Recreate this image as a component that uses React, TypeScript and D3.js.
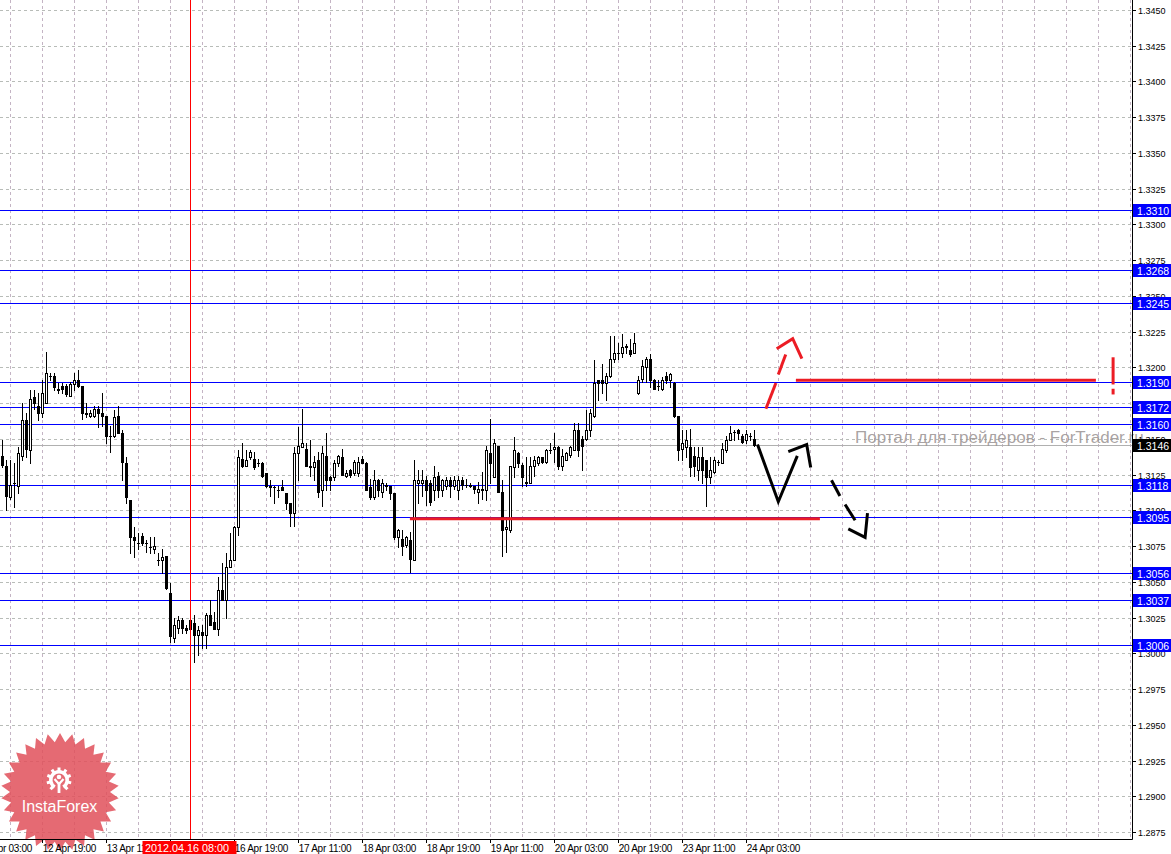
import React from 'react';
import * as d3 from 'd3';

// ---- Data: EURUSD H1 candles (bar index 0 = leftmost visible bar) ----
const opens = [
  1.3138, 1.3131, 1.3109, 1.3119, 1.3117, 1.3138, 1.3163, 1.3142, 1.3179, 1.3173,
  1.3168, 1.3175, 1.3194, 1.3194, 1.3185, 1.3187, 1.3187, 1.3180, 1.3188, 1.3191,
  1.3187, 1.3168, 1.3166, 1.3166, 1.3171, 1.3168, 1.3166, 1.3152, 1.3152, 1.3166,
  1.3154, 1.3133, 1.3107, 1.3081, 1.3077, 1.3082, 1.3077, 1.3074, 1.3073, 1.3065,
  1.3065, 1.3068, 1.3042, 1.3011, 1.3018, 1.3023, 1.3018, 1.3017, 1.3021, 1.3013,
  1.3015, 1.3013, 1.3027, 1.3022, 1.3017, 1.3044, 1.3037, 1.3060, 1.3065, 1.3088,
  1.3136, 1.3131, 1.3137, 1.3136, 1.3133, 1.3133, 1.3126, 1.3117, 1.3116, 1.3114,
  1.3116, 1.3112, 1.3105, 1.3098, 1.3140, 1.3144, 1.3143, 1.3131, 1.3130, 1.3135,
  1.3114, 1.3138, 1.3123, 1.3123, 1.3133, 1.3137, 1.3124, 1.3128, 1.3126, 1.3126,
  1.3136, 1.3133, 1.3116, 1.3109, 1.3121, 1.3113, 1.3118, 1.3117, 1.3112, 1.3081,
  1.3080, 1.3076, 1.3079, 1.3065, 1.3119, 1.3119, 1.3121, 1.3119, 1.3114, 1.3124,
  1.3114, 1.3117, 1.3121, 1.3117, 1.3114, 1.3121, 1.3118, 1.3118, 1.3117, 1.3113,
  1.3115, 1.3114, 1.3140, 1.3123, 1.3145, 1.3113, 1.3087, 1.3086, 1.3130, 1.3140,
  1.3132, 1.3120, 1.3119, 1.3131, 1.3133, 1.3137, 1.3134, 1.3142, 1.3143, 1.3144,
  1.3131, 1.3135, 1.3139, 1.3142, 1.3156, 1.3150, 1.3150, 1.3156, 1.3166, 1.3191,
  1.3191, 1.3189, 1.3194, 1.3206, 1.3210, 1.3210, 1.3214, 1.3212, 1.3210, 1.3182,
  1.3192, 1.3200, 1.3206, 1.3191, 1.3187, 1.3185, 1.3194, 1.3191, 1.3189, 1.3166,
  1.3143, 1.3144, 1.3144, 1.3138, 1.3128, 1.3137, 1.3135, 1.3123, 1.3127, 1.3134,
  1.3133, 1.3142, 1.3149, 1.3155, 1.3156, 1.3152, 1.3149, 1.3152, 1.3150,
];
const highs = [
  1.3149, 1.3135, 1.3135, 1.3133, 1.3144, 1.3175, 1.3168, 1.3184, 1.3184, 1.3182,
  1.3191, 1.3211, 1.3196, 1.3196, 1.3189, 1.3189, 1.3188, 1.3190, 1.3196, 1.3198,
  1.3187, 1.3175, 1.3170, 1.3173, 1.3173, 1.3182, 1.3166, 1.3159, 1.3170, 1.3173,
  1.3156, 1.3137, 1.3107, 1.3088, 1.3084, 1.3084, 1.3079, 1.3081, 1.3081, 1.3070,
  1.3073, 1.3068, 1.3049, 1.3025, 1.3026, 1.3025, 1.3020, 1.3028, 1.3027, 1.3019,
  1.3020, 1.3028, 1.3037, 1.3029, 1.3053, 1.3063, 1.3070, 1.3084, 1.3089, 1.3142,
  1.3147, 1.3142, 1.3142, 1.3141, 1.3136, 1.3134, 1.3126, 1.3121, 1.3117, 1.3117,
  1.3121, 1.3112, 1.3105, 1.3144, 1.3158, 1.3171, 1.3147, 1.3149, 1.3138, 1.3141,
  1.3145, 1.3154, 1.3124, 1.3135, 1.3139, 1.3143, 1.3128, 1.3129, 1.3135, 1.3137,
  1.3138, 1.3134, 1.3122, 1.3128, 1.3122, 1.3122, 1.3119, 1.3117, 1.3112, 1.3087,
  1.3086, 1.3082, 1.3085, 1.3135, 1.3128, 1.3128, 1.3124, 1.3121, 1.3131, 1.3127,
  1.3122, 1.3123, 1.3123, 1.3124, 1.3124, 1.3123, 1.3122, 1.3119, 1.3117, 1.3120,
  1.3127, 1.3145, 1.3164, 1.3150, 1.3145, 1.3121, 1.3095, 1.3131, 1.3151, 1.3141,
  1.3133, 1.3137, 1.3137, 1.3138, 1.3138, 1.3137, 1.3143, 1.3147, 1.3154, 1.3145,
  1.3143, 1.3141, 1.3145, 1.3161, 1.3161, 1.3152, 1.3170, 1.3171, 1.3205, 1.3191,
  1.3202, 1.3196, 1.3222, 1.3222, 1.3217, 1.3223, 1.3216, 1.3220, 1.3224, 1.3194,
  1.3205, 1.3207, 1.3209, 1.3192, 1.3191, 1.3193, 1.3197, 1.3196, 1.3190, 1.3166,
  1.3156, 1.3156, 1.3157, 1.3144, 1.3144, 1.3144, 1.3135, 1.3137, 1.3137, 1.3135,
  1.3147, 1.3152, 1.3159, 1.3156, 1.3157, 1.3153, 1.3156, 1.3154, 1.3156,
];
const lows = [
  1.3130, 1.3100, 1.3108, 1.3102, 1.3112, 1.3135, 1.3137, 1.3133, 1.3171, 1.3163,
  1.3165, 1.3175, 1.3191, 1.3184, 1.3182, 1.3182, 1.3180, 1.3180, 1.3184, 1.3186,
  1.3164, 1.3165, 1.3165, 1.3165, 1.3158, 1.3159, 1.3147, 1.3141, 1.3151, 1.3154,
  1.3121, 1.3105, 1.3070, 1.3067, 1.3073, 1.3076, 1.3071, 1.3070, 1.3070, 1.3062,
  1.3056, 1.3045, 1.3008, 1.3008, 1.3014, 1.3014, 1.3014, 1.3014, 1.2994, 1.2999,
  1.3004, 1.3004, 1.3020, 1.3017, 1.3013, 1.3037, 1.3025, 1.3060, 1.3065, 1.3083,
  1.3130, 1.3131, 1.3136, 1.3129, 1.3131, 1.3123, 1.3116, 1.3110, 1.3105, 1.3109,
  1.3114, 1.3101, 1.3089, 1.3089, 1.3121, 1.3144, 1.3131, 1.3124, 1.3121, 1.3109,
  1.3103, 1.3114, 1.3114, 1.3121, 1.3131, 1.3125, 1.3123, 1.3123, 1.3125, 1.3124,
  1.3133, 1.3114, 1.3108, 1.3108, 1.3110, 1.3109, 1.3114, 1.3108, 1.3080, 1.3074,
  1.3069, 1.3074, 1.3057, 1.3065, 1.3105, 1.3110, 1.3104, 1.3104, 1.3107, 1.3109,
  1.3110, 1.3115, 1.3109, 1.3115, 1.3108, 1.3115, 1.3116, 1.3116, 1.3112, 1.3105,
  1.3108, 1.3107, 1.3119, 1.3123, 1.3113, 1.3068, 1.3071, 1.3085, 1.3123, 1.3130,
  1.3117, 1.3117, 1.3119, 1.3124, 1.3132, 1.3133, 1.3133, 1.3140, 1.3134, 1.3129,
  1.3128, 1.3135, 1.3137, 1.3142, 1.3138, 1.3128, 1.3149, 1.3152, 1.3165, 1.3177,
  1.3182, 1.3177, 1.3193, 1.3204, 1.3206, 1.3207, 1.3210, 1.3208, 1.3210, 1.3181,
  1.3190, 1.3190, 1.3186, 1.3185, 1.3184, 1.3184, 1.3189, 1.3186, 1.3165, 1.3135,
  1.3135, 1.3137, 1.3124, 1.3124, 1.3121, 1.3119, 1.3103, 1.3119, 1.3126, 1.3132,
  1.3133, 1.3141, 1.3149, 1.3149, 1.3150, 1.3147, 1.3147, 1.3149, 1.3145,
];
const closes = [
  1.3132, 1.3110, 1.3118, 1.3119, 1.3140, 1.3163, 1.3143, 1.3178, 1.3175, 1.3168,
  1.3182, 1.3196, 1.3194, 1.3186, 1.3184, 1.3185, 1.3181, 1.3188, 1.3191, 1.3187,
  1.3168, 1.3167, 1.3168, 1.3171, 1.3168, 1.3166, 1.3152, 1.3152, 1.3165, 1.3154,
  1.3134, 1.3109, 1.3081, 1.3079, 1.3077, 1.3077, 1.3077, 1.3074, 1.3075, 1.3065,
  1.3067, 1.3046, 1.3012, 1.3020, 1.3023, 1.3018, 1.3016, 1.3023, 1.3013, 1.3016,
  1.3013, 1.3027, 1.3020, 1.3017, 1.3044, 1.3037, 1.3060, 1.3065, 1.3088, 1.3137,
  1.3131, 1.3135, 1.3141, 1.3130, 1.3133, 1.3124, 1.3117, 1.3116, 1.3116, 1.3114,
  1.3114, 1.3105, 1.3098, 1.3140, 1.3145, 1.3147, 1.3131, 1.3130, 1.3134, 1.3113,
  1.3140, 1.3121, 1.3121, 1.3133, 1.3138, 1.3125, 1.3126, 1.3125, 1.3134, 1.3134,
  1.3133, 1.3114, 1.3109, 1.3121, 1.3114, 1.3119, 1.3117, 1.3112, 1.3081, 1.3086,
  1.3075, 1.3081, 1.3066, 1.3121, 1.3121, 1.3121, 1.3114, 1.3106, 1.3123, 1.3114,
  1.3121, 1.3121, 1.3117, 1.3121, 1.3121, 1.3118, 1.3118, 1.3117, 1.3115, 1.3115,
  1.3114, 1.3142, 1.3133, 1.3147, 1.3113, 1.3086, 1.3088, 1.3131, 1.3142, 1.3133,
  1.3123, 1.3119, 1.3131, 1.3135, 1.3137, 1.3134, 1.3142, 1.3142, 1.3144, 1.3131,
  1.3138, 1.3140, 1.3144, 1.3156, 1.3142, 1.3145, 1.3156, 1.3168, 1.3189, 1.3189,
  1.3189, 1.3194, 1.3206, 1.3210, 1.3210, 1.3214, 1.3215, 1.3209, 1.3217, 1.3191,
  1.3201, 1.3206, 1.3191, 1.3185, 1.3187, 1.3191, 1.3191, 1.3195, 1.3166, 1.3142,
  1.3147, 1.3149, 1.3130, 1.3131, 1.3137, 1.3128, 1.3123, 1.3128, 1.3135, 1.3134,
  1.3143, 1.3149, 1.3154, 1.3155, 1.3154, 1.3148, 1.3153, 1.3152, 1.3146,
];

// Horizontal levels drawn on the chart (blue)
const levelPrices = [1.3310, 1.3268, 1.3245, 1.3190, 1.3172, 1.3160, 1.3118, 1.3095, 1.3056, 1.3037, 1.3006];
const bidPrice = 1.3146;

// Price axis ticks
const priceTicks = [
  1.2875, 1.2900, 1.2925, 1.2950, 1.2975, 1.3000, 1.3025, 1.3050, 1.3075, 1.3100, 1.3125, 1.3150,
  1.3175, 1.3200, 1.3225, 1.3250, 1.3275, 1.3300, 1.3325, 1.3350, 1.3375, 1.3400, 1.3425, 1.3450,
];

// Time axis ticks (bar index) and labels
const timeTickBars = [-6, 10, 26, 42, 58, 74, 90, 106, 122, 138, 154, 170, 186];
const timeTickLabels = [
  '12 Apr 03:00', '12 Apr 19:00', '13 Apr 11:00', '16 Apr 03:00', '16 Apr 19:00', '17 Apr 11:00',
  '18 Apr 03:00', '18 Apr 19:00', '19 Apr 11:00', '20 Apr 03:00', '20 Apr 19:00', '23 Apr 11:00', '24 Apr 03:00',
];
const cursorBar = 47;
const cursorLabel = '2012.04.16 08:00';

// Hand-drawn annotations, in (bar index, price)
const redSupport: [number, number][] = [[101.9, 1.3094], [204.4, 1.3094]];
const redResistance: [number, number][] = [[198.4, 1.3191], [273.4, 1.3191]];
const redArrowShaft1: [number, number][] = [[190.9, 1.3171], [193.4, 1.3189]];
const redArrowShaft2: [number, number][] = [[194.0, 1.3195], [195.85, 1.3209]];
const redArrowHead: [number, number][] = [[193.6, 1.3213], [197.6, 1.3220], [199.9, 1.3206]];
const redExclBar: [number, number][] = [[277.7, 1.3207], [277.7, 1.3188]];
const redExclDot: [number, number][] = [[277.7, 1.3185], [277.7, 1.3181]];
const blackPath: [number, number][] = [[188.8, 1.3146], [194.0, 1.3106], [198.75, 1.3138]];
const blackHead: [number, number][] = [[196.5, 1.3141], [201.1, 1.3146], [202.1, 1.3130]];
const blackDash1: [number, number][] = [[207.3, 1.3121], [209.4, 1.3110]];
const blackDash2: [number, number][] = [[210.7, 1.3104], [213.2, 1.3093]];
const blackDashHead: [number, number][] = [[211.5, 1.3087], [215.7, 1.3081], [216.3, 1.3098]];

const watermark = 'Портал для трейдеров - ForTrader.ru';
const logoText = 'InstaForex';

export default function App() {
  const W = 1171;
  const H = 854;
  const plotRight = 1132;
  const plotBottom = 839;

  const x = d3.scaleLinear().domain([0, 282]).range([2.3, 1130.3]);
  const y = d3.scaleLinear().domain([1.3310, 1.3006]).range([210, 644.7]);
  const cx = (k: number) => Math.round(x(k)) + 0.5;
  const cy = (p: number) => Math.round(y(p)) + 0.5;
  const ry = (p: number) => Math.round(y(p));

  const line = d3.line<[number, number]>().x((d) => x(d[0])).y((d) => y(d[1]));

  const gridBars = d3.range(2, 283, 8);
  const font = '"Liberation Sans", Arial, sans-serif';
  const red = '#ec1c24';

  // Star badge
  const starN = 30;
  const starCx = 60;
  const starCy = 792;
  const starR = 59;
  const starr = 50;
  const starPts: [number, number][] = [];
  for (let i = 0; i < starN * 2; i++) {
    const a = (Math.PI * i) / starN - Math.PI / 2;
    const r = i % 2 === 0 ? starR : starr;
    starPts.push([starCx + r * Math.cos(a), starCy + r * Math.sin(a)]);
  }
  const starPath = d3.line()(starPts) + 'Z';
  const gearArc = d3.arc()({ innerRadius: 6.5, outerRadius: 10, startAngle: -2.6, endAngle: 2.6 } as any);

  return (
    <svg
      width={W}
      height={H}
      style={{ position: 'absolute', left: 0, top: 0, background: '#fff' }}
      xmlns="http://www.w3.org/2000/svg"
    >
      <rect x={0} y={0} width={W} height={H} fill="#fff" />
      <defs>
        <clipPath id="plot">
          <rect x={0} y={0} width={plotRight} height={plotBottom} />
        </clipPath>
      </defs>

      <g clipPath="url(#plot)">
        {/* grid */}
        {gridBars.map((k) => (
          <line key={'vg' + k} x1={cx(k)} x2={cx(k)} y1={0} y2={plotBottom} stroke="#c4b4c4" strokeDasharray="3,3" />
        ))}
        {priceTicks.map((p) => (
          <line key={'hg' + p} x1={0} x2={plotRight} y1={cy(p)} y2={cy(p)} stroke="#b8bcb8" strokeDasharray="3,3" />
        ))}

        {/* bid line */}
        <line x1={0} x2={plotRight} y1={cy(bidPrice)} y2={cy(bidPrice)} stroke="#b0b0b0" />

        {/* levels */}
        {levelPrices.map((p) => (
          <line key={'lv' + p} x1={0} x2={plotRight} y1={cy(p)} y2={cy(p)} stroke="#0000ff" />
        ))}

        {/* candles */}
        {opens.map((o, k) => {
          const c = closes[k];
          const h = highs[k];
          const l = lows[k];
          const xc = cx(k);
          const yTop = ry(Math.max(o, c));
          const yBot = ry(Math.min(o, c));
          const bull = c > o;
          return (
            <g key={'c' + k}>
              <line x1={xc} x2={xc} y1={ry(h)} y2={ry(l) + 1} stroke="#000" />
              {yBot - yTop < 1 ? (
                <line x1={xc - 1.5} x2={xc + 1.5} y1={yTop + 0.5} y2={yTop + 0.5} stroke="#000" />
              ) : bull ? (
                <rect x={xc - 1} y={yTop + 0.5} width={2} height={yBot - yTop} fill="#fff" stroke="#000" />
              ) : (
                <rect x={xc - 1.5} y={yTop} width={3} height={yBot - yTop + 1} fill="#000" />
              )}
            </g>
          );
        })}

        {/* cursor line */}
        <line x1={cx(cursorBar)} x2={cx(cursorBar)} y1={0} y2={plotBottom} stroke="#ff0000" />

        {/* annotations */}
        <path d={line(redSupport)!} stroke={red} strokeWidth={3} fill="none" />
        <path d={line(redResistance)!} stroke={red} strokeWidth={3} fill="none" />
        <path d={line(redArrowShaft1)!} stroke={red} strokeWidth={3} fill="none" />
        <path d={line(redArrowShaft2)!} stroke={red} strokeWidth={3} fill="none" />
        <path d={line(redArrowHead)!} stroke={red} strokeWidth={3} fill="none" strokeLinejoin="miter" />
        <path d={line(redExclBar)!} stroke={red} strokeWidth={3} fill="none" />
        <path d={line(redExclDot)!} stroke={red} strokeWidth={3} fill="none" />
        <path d={line(blackPath)!} stroke="#000" strokeWidth={3} fill="none" />
        <path d={line(blackHead)!} stroke="#000" strokeWidth={3} fill="none" />
        <path d={line(blackDash1)!} stroke="#000" strokeWidth={3} fill="none" />
        <path d={line(blackDash2)!} stroke="#000" strokeWidth={3} fill="none" />
        <path d={line(blackDashHead)!} stroke="#000" strokeWidth={3} fill="none" />
      </g>

      {/* watermark */}
      <text x={855} y={443} fontFamily={font} fontSize={17} fill="#9a9292" fillOpacity={0.85}>
        {watermark}
      </text>

      {/* InstaForex badge */}
      <g>
        <path d={starPath} fill="#e0505a" fillOpacity={0.85} />
        <g transform="translate(59,780)" fill="#fff">
          <path d={gearArc!} />
          {d3.range(-2.4, 2.5, 0.6).map((a, i) => (
            <rect
              key={'t' + i}
              x={-1.5}
              y={-12.5}
              width={3}
              height={3.5}
              transform={`rotate(${(a * 180) / Math.PI})`}
            />
          ))}
          <circle cx={0} cy={-3} r={2.3} />
          <path d="M-4.5,-1 L0,4 L4.5,-1" stroke="#fff" strokeWidth={2.2} fill="none" />
          <rect x={-1.4} y={3} width={2.8} height={10} />
        </g>
        <text x={59.5} y={812} textAnchor="middle" fontFamily={font} fontSize={16} fill="#fff">
          {logoText}
        </text>
      </g>

      {/* axes */}
      <line x1={0} x2={plotRight + 0.5} y1={plotBottom + 0.5} y2={plotBottom + 0.5} stroke="#000" />
      <line x1={plotRight + 0.5} x2={plotRight + 0.5} y1={0} y2={plotBottom + 0.5} stroke="#000" />

      {/* price axis labels */}
      {priceTicks.map((p) => (
        <g key={'pt' + p}>
          <line x1={plotRight} x2={plotRight + 4} y1={cy(p)} y2={cy(p)} stroke="#000" />
          <text x={1138} y={cy(p) + 3.5} fontFamily={font} fontSize={9} fill="#000">
            {p.toFixed(4)}
          </text>
        </g>
      ))}
      {levelPrices.map((p) => (
        <g key={'pl' + p}>
          <rect x={plotRight + 1} y={ry(p) - 6} width={W - plotRight} height={13} fill="#0000ff" />
          <text x={1137} y={ry(p) + 4.5} fontFamily={font} fontSize={10.5} fill="#fff">
            {p.toFixed(4)}
          </text>
        </g>
      ))}
      <rect x={plotRight + 1} y={ry(bidPrice) - 6} width={W - plotRight} height={13} fill="#000" />
      <text x={1137} y={ry(bidPrice) + 4.5} fontFamily={font} fontSize={10.5} fill="#fff">
        {bidPrice.toFixed(4)}
      </text>

      {/* time axis labels */}
      {timeTickBars.map((k, i) => (
        <g key={'tt' + k}>
          <line x1={cx(k)} x2={cx(k)} y1={plotBottom} y2={plotBottom + 4} stroke="#000" />
          <text x={x(k) + 0.5} y={851.5} fontFamily={font} fontSize={10} letterSpacing={-0.3} fill="#000">
            {timeTickLabels[i]}
          </text>
        </g>
      ))}
      <rect x={142.5} y={841} width={94} height={13} fill="#ff0000" />
      <text x={145} y={852} fontFamily={font} fontSize={10.8} fill="#fff">
        {cursorLabel}
      </text>
    </svg>
  );
}
